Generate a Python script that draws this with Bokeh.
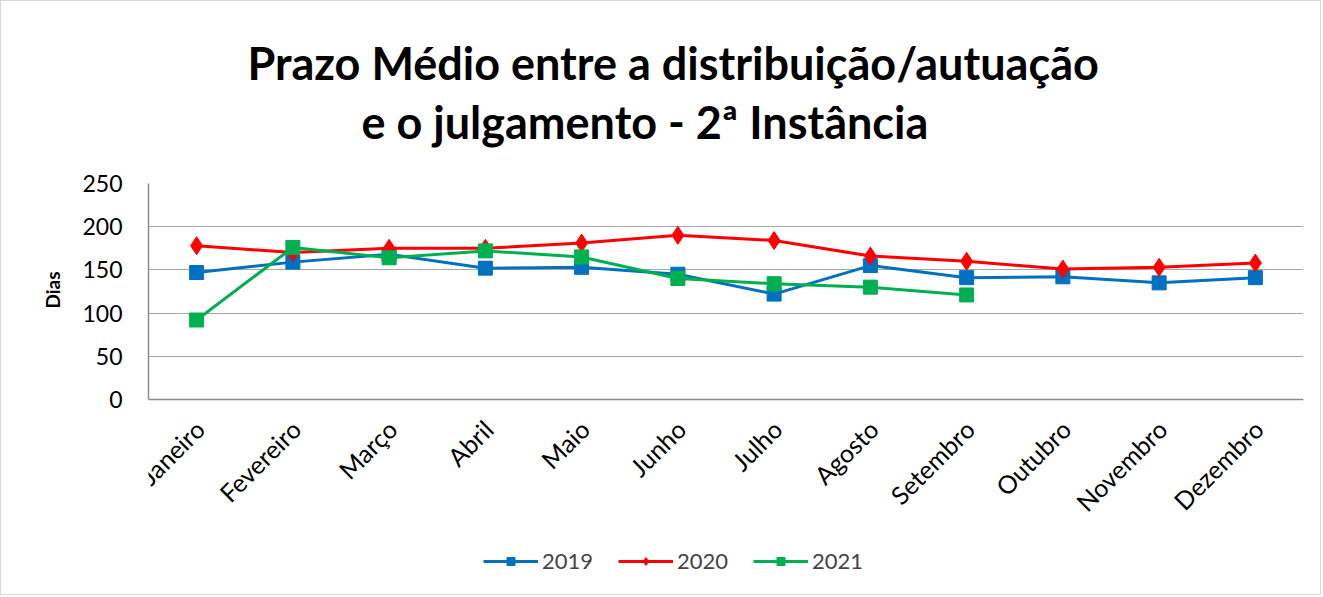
import math
from bokeh.plotting import figure
from bokeh.models import Title, Legend, LegendItem, FactorRange, FixedTicker, Range1d, Span
from bokeh.core.properties import value
from bokeh.embed import file_html
from bokeh.resources import INLINE

months = ["Janeiro", "Fevereiro", "Março", "Abril", "Maio", "Junho",
          "Julho", "Agosto", "Setembro", "Outubro", "Novembro", "Dezembro"]
v2019 = [147, 159, 168, 152, 153, 145, 122, 155, 141, 142, 135, 141]
v2020 = [178, 170, 175, 175, 181, 190, 184, 166, 160, 151, 153, 158]
months_2021 = months[:9]
v2021 = [92, 176, 164, 172, 165, 140, 134, 130, 121]
y_ticks = [0, 50, 100, 150, 200, 250]

FONT = "Lato"
C19, C20, C21 = "#0070C0", "#FF0000", "#00B050"

# The frame extends below the value axis so that the month labels and the
# legend can live inside it; 216 px correspond to the 0..250 value span.
FRAME_H = 411
PX_PER_UNIT = 216 / 250
y_start = 250 - FRAME_H / PX_PER_UNIT

p = figure(x_range=FactorRange(*months), y_range=Range1d(y_start, 250),
           frame_width=1155, frame_height=FRAME_H,
           min_border_left=147, min_border_right=17,
           min_border_top=182, min_border_bottom=0,
           x_axis_location=None,
           output_backend="svg", toolbar_location=None)
p.styles = {"border": "1px solid #D9D9D9"}

p.outline_line_color = None
p.xgrid.grid_line_color = None
p.ygrid.ticker = FixedTicker(ticks=y_ticks)
p.ygrid.grid_line_color = "#A6A6A6"
p.ygrid.grid_line_width = 1

yax = p.yaxis[0]
yax.ticker = FixedTicker(ticks=y_ticks)
yax.bounds = (0, 250)
yax.axis_line_color = "#8C8C8C"
yax.axis_line_width = 1.5
yax.major_tick_line_color = None
yax.minor_tick_line_color = None
yax.major_label_text_font = FONT
yax.major_label_text_font_size = "23px"
yax.major_label_text_color = "#000000"
yax.major_label_standoff = 20

# category axis line at value 0
p.add_layout(Span(location=0, dimension="width", line_color="#8C8C8C", line_width=1.5))

# value-axis title, placed next to the 0..250 part of the frame
p.add_layout(Title(text="Dias", align="right", offset=88, vertical_align="bottom",
                   text_font=FONT, text_font_size="19px", text_font_style="bold",
                   text_color="#000000", standoff=32), "left")

# month (category) labels, rotated 45 degrees under the axis
p.text(x=months, y=[0] * len(months), text=months, angle=math.pi / 4,
       text_align="right", text_baseline="middle", x_offset=3, y_offset=25,
       text_font=value(FONT), text_font_size="25px", text_color="#000000")

r19l = p.line(months, v2019, line_color=C19, line_width=3)
r19m = p.scatter(months, v2019, marker="square", size=14, fill_color=C19, line_color=C19)
r20l = p.line(months, v2020, line_color=C20, line_width=3)
r20m = p.scatter(months, v2020, marker="diamond", size=18, fill_color=C20, line_color=C20)
r21l = p.line(months_2021, v2021, line_color=C21, line_width=3)
r21m = p.scatter(months_2021, v2021, marker="square", size=14, fill_color=C21, line_color=C21)

legend = Legend(items=[
    LegendItem(label="2019", renderers=[r19l, r19m]),
    LegendItem(label="2020", renderers=[r20l, r20m]),
    LegendItem(label="2021", renderers=[r21l, r21m]),
], orientation="horizontal", location=(335, 20),
    glyph_width=55, glyph_height=20, spacing=25, label_standoff=4,
    label_text_font=FONT, label_text_font_size="22px",
    background_fill_alpha=0, border_line_color=None, padding=0, margin=0)
p.add_layout(legend, "center")

spacer = Title(text=" ", text_font_size="1px", standoff=30)
t2 = Title(text="e o julgamento - 2ª Instância", align="left", offset=213,
           text_font=FONT, text_font_size="45px", text_font_style="bold",
           text_color="#000000", standoff=3)
t1 = Title(text="Prazo Médio entre a distribuição/autuação", align="left", offset=99,
           text_font=FONT, text_font_size="45px", text_font_style="bold",
           text_color="#000000", standoff=3)
p.add_layout(spacer, "above")
p.add_layout(t2, "above")
p.add_layout(t1, "above")

open("out.html", "w").write(file_html(p, INLINE))
